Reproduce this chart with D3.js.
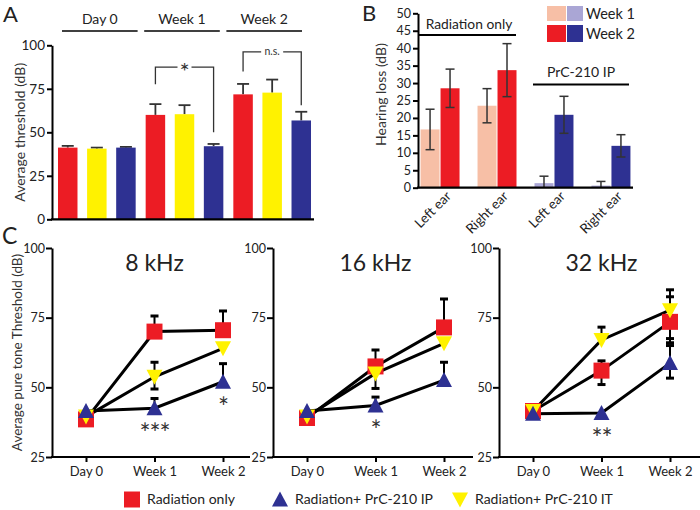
<!DOCTYPE html>
<html><head><meta charset="utf-8">
<script src="https://cdn.jsdelivr.net/npm/d3@7"></script>
<style>
body{margin:0;background:#fff;}
svg{font-family:Lato,"Open Sans",sans-serif;}
</style></head>
<body><svg id="c" width="700" height="510"></svg>
<script>
// ---------- Panel A data ----------
const groupsA = ["Day 0", "Week 1", "Week 2"];
const seriesA = ["Radiation only", "Radiation+ PrC-210 IT", "Radiation+ PrC-210 IP"];
const meanA_rad = [41.2, 60.0, 71.8];
const errA_rad  = [1.0, 6.2, 6.0];
const meanA_IT  = [40.6, 60.4, 72.8];
const errA_IT   = [0.6, 5.2, 7.5];
const meanA_IP  = [41.2, 42.0, 56.8];
const errA_IP   = [0.4, 1.3, 5.0];
const ticksA = [0, 25, 50, 75, 100];

// ---------- Panel B data ----------
const earsB = ["Left ear", "Right ear", "Left ear ", "Right ear "];
const week1B = [16.7, 23.5, 1.3, 0.6];
const week1ErrB = [5.8, 4.9, 2.0, 1.2];
const week2B = [28.5, 33.7, 20.9, 12.0];
const week2ErrB = [5.5, 7.6, 5.3, 3.2];
const ticksB = [0, 5, 10, 15, 20, 25, 30, 35, 40, 45, 50];

// ---------- Panel C data ----------
const timesC = ["Day 0", "Week 1", "Week 2"];
const freqsC = ["8 kHz", "16 kHz", "32 kHz"];
// per frequency: [Day0, Week1, Week2]
const radC = [[38.5, 70.0, 70.5], [39.0, 57.5, 71.5], [41.5, 56.0, 73.5]];
const radHiC = [[null, 75.6, 77.4], [null, 63.4, 81.7], [null, 59.5, 82.5]];
const radLoC = [[null, null, null], [null, null, null], [null, 51.0, 66.0]];
const itC = [[39.5, 53.8, 64.0], [39.5, 55.0, 65.8], [41.5, 67.0, 77.7]];
const itHiC = [[null, 59.0, null], [null, null, null], [null, 71.6, 85.0]];
const itLoC = [[null, 49.4, null], [null, 49.6, null], [null, null, 67.5]];
const ipC = [[41.5, 42.5, 52.0], [41.5, 43.5, 52.6], [40.5, 40.8, 58.7]];
const ipHiC = [[null, 46.0, 58.5], [null, 46.5, 59.0], [null, null, 65.0]];
const ipLoC = [[null, null, null], [null, null, null], [null, null, 53.3]];
const sigC = [[["Week 1", "***"], ["Week 2", "*"]], [["Week 1", "*"]], [["Week 1", "**"]]];
const ticksC = [25, 50, 75, 100];

const RED = "#ec1c24", YEL = "#fff200", BLUE = "#2e3192";
const SALMON = "#f7bfa6", LAV = "#aaa6d5";

const svg = d3.select("#c");

function styleAxis(g, w) {
  g.select(".domain").attr("stroke", "#000").attr("stroke-width", w || 2);
  g.selectAll(".tick line").attr("stroke", "#000").attr("stroke-width", 2);
  g.selectAll(".tick text").attr("font-size", 12.5).attr("fill", "#222").attr("font-family", "Lato");
}

// =============== Panel A ===============
{
  const y = d3.scaleLinear().domain([0, 100]).range([219.3, 45.3]);
  const x0 = d3.scaleBand().domain(groupsA).range([53, 316]).paddingInner(0.114).paddingOuter(0.057);
  const x1 = d3.scaleBand().domain(seriesA).range([0, x0.bandwidth()]).paddingInner(0.33);
  const colors = d3.scaleOrdinal().domain(seriesA).range([RED, YEL, BLUE]);
  const means = [meanA_rad, meanA_IT, meanA_IP];
  const errs = [errA_rad, errA_IT, errA_IP];
  const g = svg.append("g");
  const data = [];
  groupsA.forEach((gr, i) => seriesA.forEach((s, j) => data.push({gr, s, v: means[j][i], e: errs[j][i]})));
  data.forEach(d => {
    const cx = x0(d.gr) + x1(d.s) + x1.bandwidth() / 2;
    g.append("line").attr("x1", cx).attr("x2", cx).attr("y1", y(d.v)).attr("y2", y(d.v + d.e)).attr("stroke", "#333").attr("stroke-width", 1.8);
    g.append("line").attr("x1", cx - 6).attr("x2", cx + 6).attr("y1", y(d.v + d.e)).attr("y2", y(d.v + d.e)).attr("stroke", "#333").attr("stroke-width", 1.8);
  });
  g.selectAll("rect.a").data(data).join("rect").attr("class", "a")
    .attr("x", d => x0(d.gr) + x1(d.s)).attr("width", x1.bandwidth())
    .attr("y", d => y(d.v)).attr("height", d => y(0) - y(d.v)).attr("fill", d => colors(d.s));
  const ya = svg.append("g").attr("transform", "translate(52,0)").call(d3.axisLeft(y).tickValues(ticksA).tickSize(5).tickSizeOuter(0).tickPadding(2));
  styleAxis(ya);
  ya.selectAll(".tick text").attr("font-size", 13.5);
  g.append("line").attr("x1", 51).attr("x2", 314).attr("y1", y(0)).attr("y2", y(0)).attr("stroke", "#000").attr("stroke-width", 2.2);
  const xh = d3.scaleBand().domain(groupsA).range([62, 302]).paddingInner(0.08);
  groupsA.forEach(gr => {
    g.append("line").attr("x1", xh(gr)).attr("x2", xh(gr) + xh.bandwidth()).attr("y1", 31).attr("y2", 31).attr("stroke", "#000").attr("stroke-width", 1.5);
    g.append("text").attr("x", xh(gr) + xh.bandwidth() / 2).attr("y", 24).attr("text-anchor", "middle").attr("font-size", 14).attr("fill", "#222").text(gr);
  });
  function bracket(gr, yl, yTop, yr, label, fs, gap, dy) {
    const xl = x0(gr) + x1(seriesA[0]) + x1.bandwidth() / 2;
    const xr = x0(gr) + x1(seriesA[2]) + x1.bandwidth() / 2;
    const xm = (xl + xr) / 2;
    const col = "#333";
    g.append("path").attr("d", `M${xl},${y(yl)}V${y(yTop)}H${xm - gap}`).attr("fill", "none").attr("stroke", col).attr("stroke-width", 1.3);
    g.append("path").attr("d", `M${xm + gap},${y(yTop)}H${xr}V${y(yr)}`).attr("fill", "none").attr("stroke", col).attr("stroke-width", 1.3);
    g.append("text").attr("x", xm).attr("y", y(yTop) + dy).attr("text-anchor", "middle").attr("font-size", fs).attr("fill", "#333").text(label);
  }
  bracket("Week 1", 77.6, 87.4, 50, "*", 24, 7, 13);
  bracket("Week 2", 85, 96.2, 65.5, "n.s.", 10.5, 11, 3.5);
  svg.append("text").attr("transform", `translate(25,${y(50)}) rotate(-90)`).attr("text-anchor", "middle").attr("font-size", 14).attr("fill", "#333").text("Average threshold (dB)");
  svg.append("text").attr("x", 3).attr("y", 22).attr("font-size", 22).attr("fill", "#222").text("A");
}

// =============== Panel B ===============
{
  const y = d3.scaleLinear().domain([0, 50]).range([187.7, 13.3]);
  const x0 = d3.scaleBand().domain(earsB).range([418, 633]).paddingInner(0.316).paddingOuter(0.045);
  const x1 = d3.scaleBand().domain(["w1", "w2"]).range([0, x0.bandwidth()]).paddingInner(0.05);
  const g = svg.append("g");
  const col1 = [SALMON, SALMON, LAV, LAV];
  const col2 = [RED, RED, BLUE, BLUE];
  earsB.forEach((e, i) => {
    [["w1", week1B[i], week1ErrB[i], col1[i]], ["w2", week2B[i], week2ErrB[i], col2[i]]].forEach(([k, v, er, c]) => {
      const bx = x0(e) + x1(k);
      g.append("rect").attr("x", bx).attr("width", x1.bandwidth()).attr("y", y(v)).attr("height", y(0) - y(v)).attr("fill", c);
      const cx = bx + x1.bandwidth() / 2;
      const lo = Math.max(0, v - er), hi = v + er;
      g.append("line").attr("x1", cx).attr("x2", cx).attr("y1", y(lo)).attr("y2", y(hi)).attr("stroke", "#333").attr("stroke-width", 1.5);
      g.append("line").attr("x1", cx - 4.5).attr("x2", cx + 4.5).attr("y1", y(hi)).attr("y2", y(hi)).attr("stroke", "#333").attr("stroke-width", 1.5);
      if (v - er > 0) g.append("line").attr("x1", cx - 4.5).attr("x2", cx + 4.5).attr("y1", y(lo)).attr("y2", y(lo)).attr("stroke", "#333").attr("stroke-width", 1.5);
    });
    const cx = x0(e) + x0.bandwidth() / 2;
    g.append("text").attr("transform", `translate(${cx + 12},197) rotate(-45)`).attr("text-anchor", "end").attr("font-size", 13.5).attr("fill", "#222").text(e.trim());
  });
  const ya = g.append("g").attr("transform", "translate(418,0)").call(d3.axisLeft(y).tickValues(ticksB).tickSize(5).tickSizeOuter(0).tickPadding(2));
  styleAxis(ya);
  g.append("line").attr("x1", 417).attr("x2", 633).attr("y1", y(0)).attr("y2", y(0)).attr("stroke", "#000").attr("stroke-width", 2.2);
  g.append("text").attr("transform", `translate(386,${y(25) - 6}) rotate(-90)`).attr("text-anchor", "middle").attr("font-size", 14).attr("fill", "#333").text("Hearing loss (dB)");
  g.append("line").attr("x1", 419).attr("x2", 516).attr("y1", 35).attr("y2", 35).attr("stroke", "#000").attr("stroke-width", 2);
  g.append("text").attr("x", 469).attr("y", 29).attr("text-anchor", "middle").attr("font-size", 13.8).attr("fill", "#222").text("Radiation only");
  g.append("line").attr("x1", 533).attr("x2", 629).attr("y1", 84.5).attr("y2", 84.5).attr("stroke", "#000").attr("stroke-width", 2);
  g.append("text").attr("x", 581).attr("y", 77).attr("text-anchor", "middle").attr("font-size", 14).attr("fill", "#222").text("PrC-210 IP");
  g.append("rect").attr("x", 547).attr("y", 6).attr("width", 19).attr("height", 15).attr("fill", SALMON);
  g.append("rect").attr("x", 567).attr("y", 6).attr("width", 16).attr("height", 15).attr("fill", LAV);
  g.append("rect").attr("x", 547).attr("y", 25).attr("width", 19).attr("height", 17).attr("fill", RED);
  g.append("rect").attr("x", 567).attr("y", 25).attr("width", 16).attr("height", 17).attr("fill", BLUE);
  g.append("text").attr("x", 586).attr("y", 19).attr("font-size", 14.5).attr("fill", "#222").text("Week 1");
  g.append("text").attr("x", 586).attr("y", 39).attr("font-size", 14.5).attr("fill", "#222").text("Week 2");
  svg.append("text").attr("x", 362).attr("y", 21).attr("font-size", 22).attr("fill", "#222").text("B");
}

// =============== Panel C ===============
{
  const y = d3.scaleLinear().domain([25, 100]).range([457, 248]);
  const axX = [52, 273, 499];
  const axEnd = [250, 473, 700];
  const S = 8;
  const sqPath = `M${-S},${-S}H${S}V${S}H${-S}Z`;
  const upPath = `M${-S},7L${S},7L0,-8Z`;
  const downPath = `M${-S},-7L${S},-7L0,8Z`;
  freqsC.forEach((f, fi) => {
    const g = svg.append("g");
    const x = d3.scalePoint().domain(timesC).range([axX[fi] + 34, axX[fi] + 171]);
    const series = [
      {m: radC[fi], hi: radHiC[fi], lo: radLoC[fi], c: RED, p: sqPath},
      {m: itC[fi], hi: itHiC[fi], lo: itLoC[fi], c: YEL, p: downPath},
      {m: ipC[fi], hi: ipHiC[fi], lo: ipLoC[fi], c: BLUE, p: upPath}
    ];
    series.forEach(s => {
      timesC.forEach((t, i) => {
        [s.hi[i], s.lo[i]].forEach(e => {
          if (e == null) return;
          g.append("line").attr("x1", x(t)).attr("x2", x(t)).attr("y1", y(s.m[i])).attr("y2", y(e)).attr("stroke", "#000").attr("stroke-width", 2);
          g.append("line").attr("x1", x(t) - 4).attr("x2", x(t) + 4).attr("y1", y(e)).attr("y2", y(e)).attr("stroke", "#000").attr("stroke-width", 3);
        });
      });
    });
    const line = d3.line().x((d, i) => x(timesC[i])).y(d => y(d));
    series.forEach(s => g.append("path").attr("d", line(s.m)).attr("fill", "none").attr("stroke", "#000").attr("stroke-width", 3));
    series.forEach(s => {
      s.m.forEach((v, i) => {
        g.append("path").attr("fill", s.c).attr("d", s.p).attr("transform", `translate(${x(timesC[i])},${y(v)})`);
      });
    });
    const ya = g.append("g").attr("transform", `translate(${axX[fi]},0)`).call(d3.axisLeft(y).tickValues(ticksC).tickSize(6).tickSizeOuter(0).tickPadding(1));
    styleAxis(ya);
    ya.selectAll(".tick text").attr("font-size", 12.5);
    const xa = g.append("g").attr("transform", "translate(0,457)").call(d3.axisBottom(x).tickSize(5).tickSizeOuter(0).tickPadding(5));
    xa.select(".domain").remove();
    xa.selectAll(".tick line").attr("stroke", "#000").attr("stroke-width", 2);
    xa.selectAll(".tick text").attr("font-size", 13).attr("fill", "#222").attr("font-family", "Lato");
    g.append("line").attr("x1", axX[fi] - 1).attr("x2", axEnd[fi]).attr("y1", 457).attr("y2", 457).attr("stroke", "#000").attr("stroke-width", 2.2);
    g.append("text").attr("x", x("Week 1")).attr("y", 271).attr("text-anchor", "middle").attr("font-size", 23).attr("fill", "#222").text(f);
    sigC[fi].forEach(([t, lab]) => {
      const idx = timesC.indexOf(t);
      g.append("text").attr("x", x(t)).attr("y", y(ipC[fi][idx]) + 35).attr("text-anchor", "middle").attr("font-size", 26).attr("letter-spacing", -1).attr("fill", "#333").text(lab);
    });
  });
  svg.append("text").attr("transform", `translate(22,${y(62.5)}) rotate(-90)`).attr("text-anchor", "middle").attr("font-size", 13.5).attr("fill", "#333").text("Average pure tone Threshold (dB)");
  svg.append("text").attr("x", 2).attr("y", 244).attr("font-size", 23).attr("fill", "#222").text("C");
  const lg = svg.append("g");
  const legItems = [["Radiation only", RED, sqPath, 132], ["Radiation+ PrC-210 IP", BLUE, upPath, 280], ["Radiation+ PrC-210 IT", YEL, downPath, 460]];
  legItems.forEach(([lab, c, p, lx]) => {
    lg.append("path").attr("d", p).attr("fill", c).attr("transform", `translate(${lx},499.5)`);
    lg.append("text").attr("x", lx + 15).attr("y", 504).attr("font-size", 14).attr("fill", "#222").text(lab);
  });
}
</script></body></html>
